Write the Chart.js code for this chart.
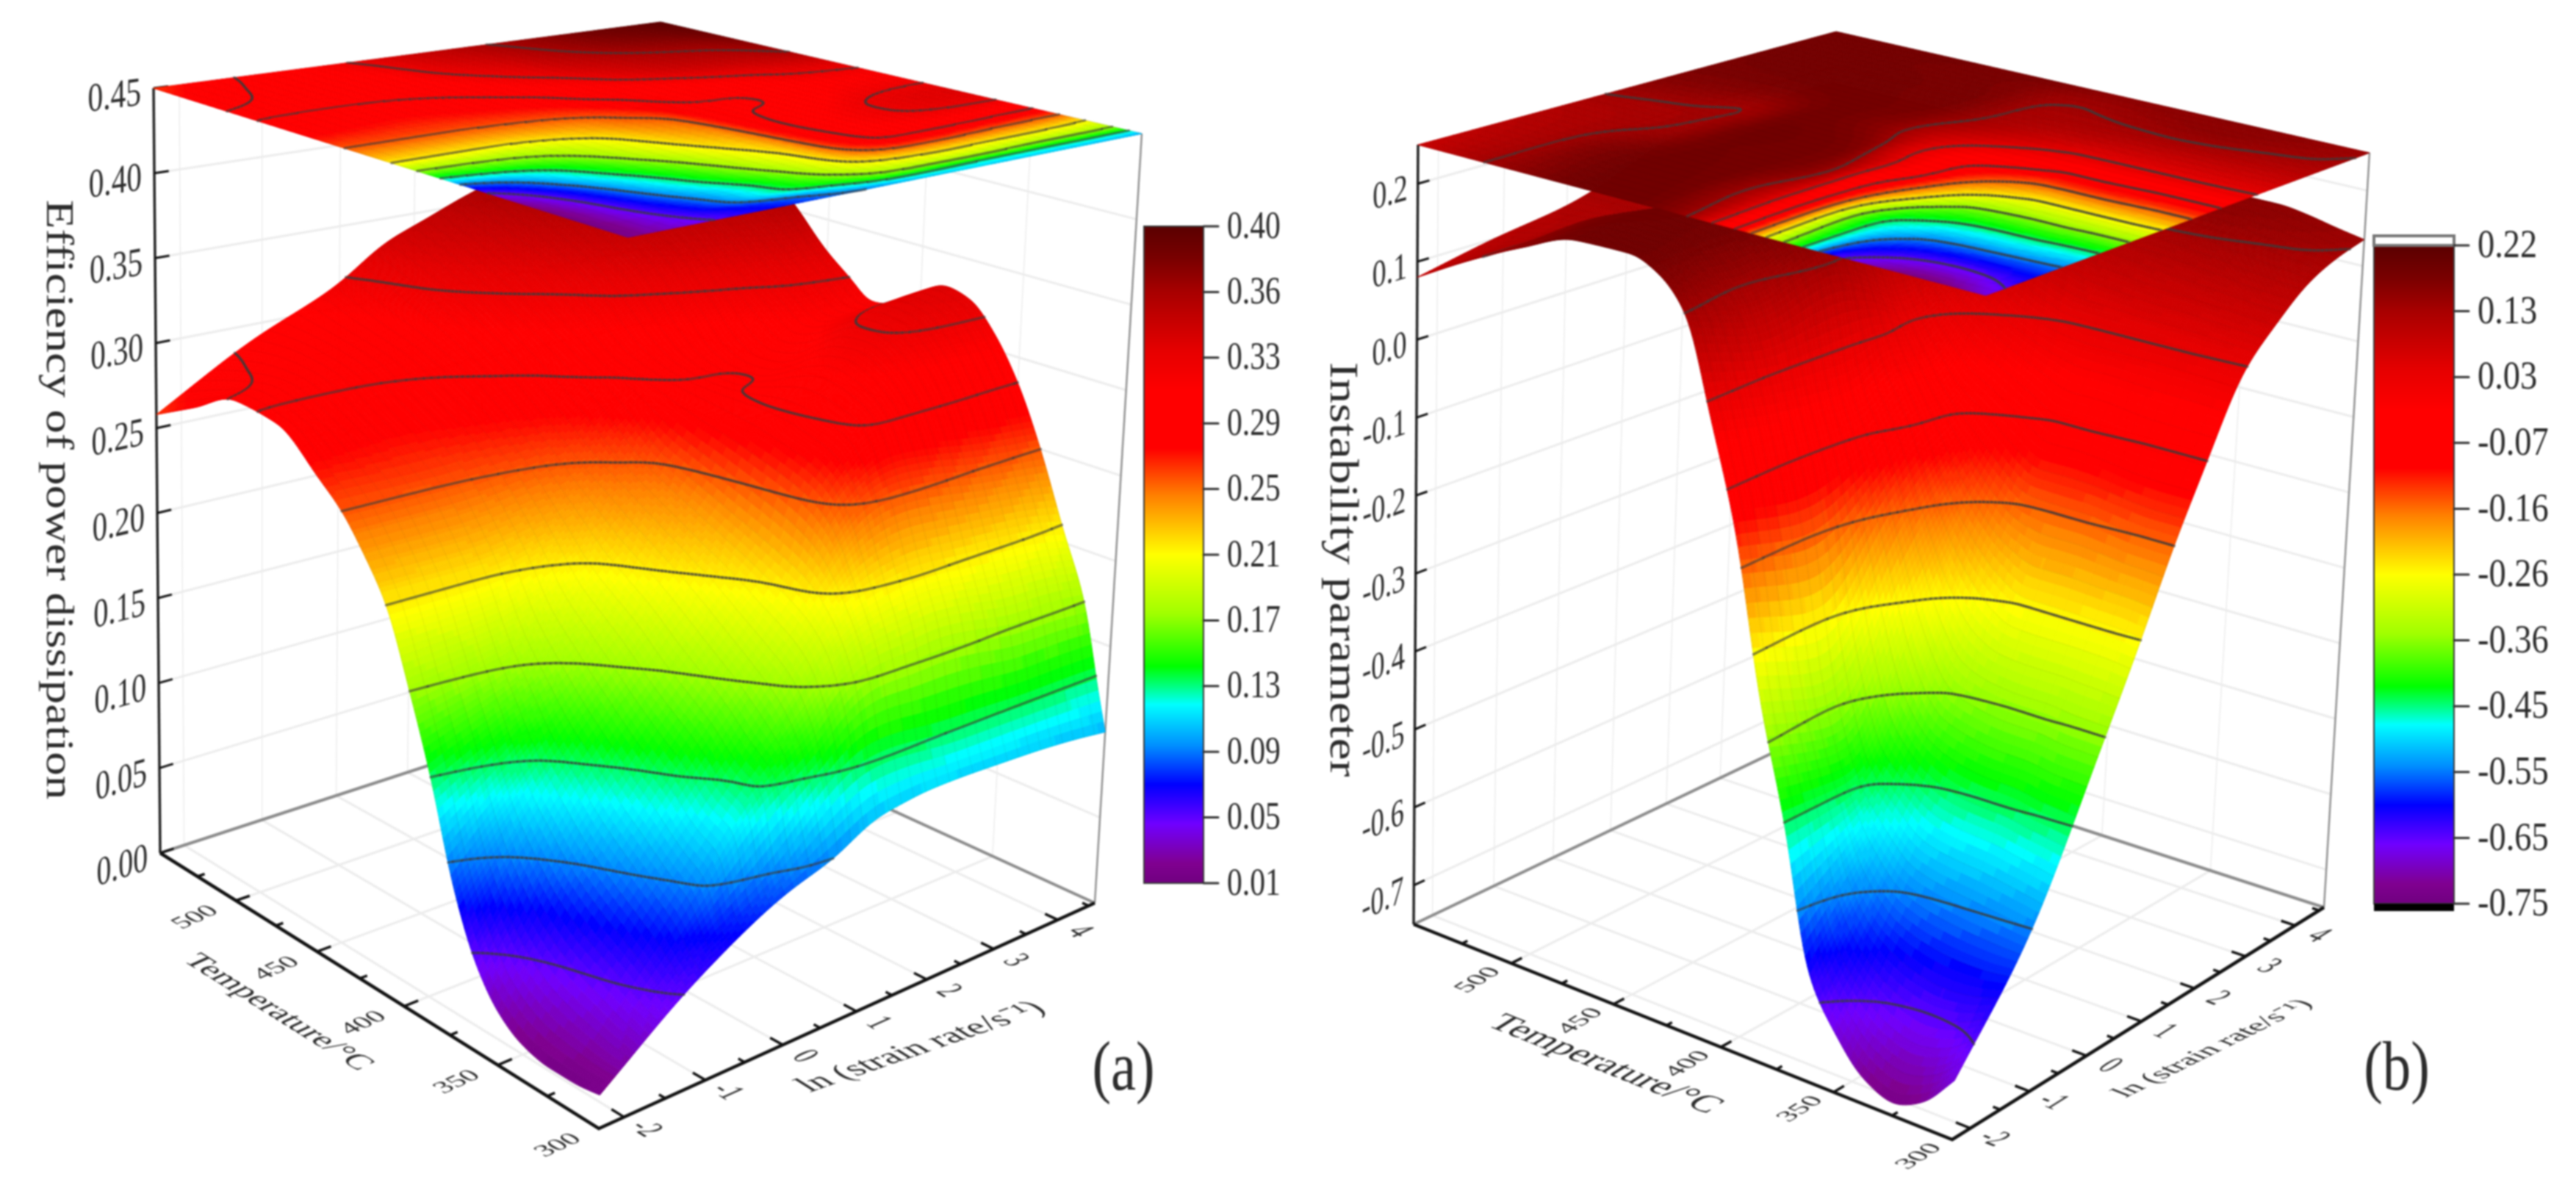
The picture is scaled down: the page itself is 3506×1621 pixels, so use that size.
<!DOCTYPE html>
<html>
<head>
<meta charset="utf-8">
<title>Efficiency of power dissipation and instability parameter</title>
<script src="https://cdn.jsdelivr.net/npm/chart.js@4/dist/chart.umd.min.js"></script>
<style>
  html, body { margin: 0; padding: 0; background: #fff; }
  #wrap { position: relative; width: 3506px; height: 1621px; overflow: hidden; }
  canvas { position: absolute; top: 0; filter: blur(1.2px); }
</style>
</head>
<body>
<div id="wrap">
  <canvas id="chartA" width="1753" height="1621" style="left:0"></canvas>
  <canvas id="chartB" width="1753" height="1621" style="left:1753px"></canvas>
</div>
<script>
// ---- axis values ----
const tempsA = [300, 305, 312.5, 325, 337.5, 350, 362.5, 375, 387.5, 400, 412.5, 425, 437.5, 450, 475, 500, 525, 550];
const ratesA = [-2.3, -1.15, 0, 0.6, 1.15, 1.5, 1.85, 2.3, 2.9, 3.45, 4.05, 4.6];
const tempsB = [300, 312.5, 325, 337.5, 350, 362.5, 375, 387.5, 400, 412.5, 425, 437.5, 450, 475, 500, 525, 550];
const ratesB = [-2.3, -1.15, 0, 0.6, 1.15, 1.7, 2.3, 2.9, 3.45, 4.05, 4.6];

// one row per strain rate, one value per temperature
const efficiency = [
  [.017, .016, .015, .015, .018, .027, .046, .08, .13, .172, .21, .232, .25, .262, .283, .286, .272, .258],
  [.055, .06, .07, .082, .093, .105, .12, .135, .157, .18, .21, .232, .25, .26, .275, .29, .293, .29],
  [.082, .09, .13, .14, .155, .166, .177, .19, .2, .21, .225, .24, .254, .265, .283, .295, .303, .315],
  [.09, .118, .145, .172, .184, .195, .206, .215, .224, .233, .242, .25, .261, .272, .293, .31, .325, .335],
  [.103, .13, .17, .2, .214, .22, .226, .232, .238, .244, .251, .265, .278, .288, .305, .322, .335, .345],
  [.105, .13, .175, .21, .24, .255, .262, .267, .272, .276, .28, .283, .287, .29, .31, .328, .34, .352],
  [.107, .128, .175, .215, .255, .272, .278, .282, .284, .284, .284, .285, .288, .295, .32, .338, .35, .358],
  [.107, .125, .178, .218, .262, .29, .297, .3, .295, .288, .284, .285, .289, .3, .33, .345, .358, .365],
  [.106, .125, .175, .216, .26, .29, .305, .312, .31, .3, .29, .288, .295, .312, .34, .355, .368, .375],
  [.105, .125, .17, .215, .255, .29, .31, .32, .322, .315, .305, .3, .31, .32, .345, .36, .375, .385],
  [.103, .125, .17, .213, .252, .287, .31, .325, .328, .32, .31, .305, .315, .328, .35, .365, .38, .392],
  [.1, .125, .168, .208, .25, .285, .31, .326, .33, .322, .31, .307, .318, .33, .36, .375, .39, .4]
];
const instability = [
  [-.68, -.72, -.735, -.72, -.68, -.62, -.45, -.31, -.12, .01, .13, .17, .185, .183, .155, .12, .08],
  [-.56, -.555, -.55, -.545, -.535, -.5, -.45, -.34, -.14, -.01, .1, .15, .18, .185, .165, .12, .1],
  [-.37, -.37, -.365, -.365, -.36, -.35, -.29, -.19, -.095, -.02, .13, .17, .178, .182, .133, .12, .115],
  [-.265, -.26, -.26, -.26, -.26, -.235, -.195, -.135, -.055, .01, .1, .17, .178, .185, .13, .125, .13],
  [-.16, -.16, -.155, -.15, -.15, -.15, -.125, -.09, -.055, 0, .06, .15, .172, .182, .128, .14, .15],
  [-.07, -.07, -.07, -.065, -.06, -.06, -.04, -.02, 0, .03, .07, .12, .155, .178, .15, .16, .165],
  [.025, .028, .03, .03, .03, .03, .03, .04, .06, .085, .11, .135, .165, .178, .175, .172, .172],
  [.07, .072, .075, .078, .08, .085, .09, .1, .105, .115, .125, .15, .17, .175, .178, .178, .175],
  [.105, .108, .112, .118, .122, .125, .125, .125, .125, .125, .128, .15, .17, .175, .178, .178, .178],
  [.125, .135, .14, .145, .15, .15, .145, .14, .135, .132, .135, .15, .165, .172, .175, .178, .18],
  [.135, .142, .15, .155, .155, .155, .155, .155, .155, .155, .16, .17, .172, .175, .178, .178, .178]
];

// ---- ticks and labels ----
const tempTicks = [300, 350, 400, 450, 500];
const tempMinor = [325, 375, 425, 475, 525];
const rateTicks = [-2, -1, 0, 1, 2, 3, 4];
const rateMinor = [-1.5, -0.5, 0.5, 1.5, 2.5, 3.5, 4.5];
const zTicksA = [0, .05, .1, .15, .2, .25, .3, .35, .4, .45];
const zLabelsA = ['0.00', '0.05', '0.10', '0.15', '0.20', '0.25', '0.30', '0.35', '0.40', '0.45'];
const zTicksB = [-.7, -.6, -.5, -.4, -.3, -.2, -.1, 0, .1, .2];
const zLabelsB = ['-0.7', '-0.6', '-0.5', '-0.4', '-0.3', '-0.2', '-0.1', '0.0', '0.1', '0.2'];
const barLabelsA = ['0.40', '0.36', '0.33', '0.29', '0.25', '0.21', '0.17', '0.13', '0.09', '0.05', '0.01'];
const barLabelsB = ['0.22', '0.13', '0.03', '-0.07', '-0.16', '-0.26', '-0.36', '-0.45', '-0.55', '-0.65', '-0.75'];
const levelsA = [.05, .09, .13, .17, .21, .25, .285, .318, .36];
const levelsB = [-.65, -.55, -.45, -.36, -.26, -.16, -.07, .03, .13];

// colour bar stops, 0 = top of bar
const colorStops = [
  [0, '#5a0000'], [.05, '#7a0000'], [.1, '#a80000'], [.19, '#e60000'], [.25, '#ff0000'], [.338, '#ff0000'],
  [.41, '#ff8000'], [.5, '#ffff00'], [.59, '#a0ff00'], [.67, '#00ff00'], [.7, '#00ff80'], [.728, '#00ffff'],
  [.79, '#0090ff'], [.85, '#0000ff'], [.91, '#7000ff'], [.97, '#800090'], [1, '#700080']
];

const panelA = {
  x0: 0, x1: 1753, temps: tempsA, rates: ratesA, values: efficiency, levels: levelsA,
  zMin: 0, zMax: .45, cMin: .01, cMax: .40,
  base: { F: [815, 1536], R: [1490, 1229], L: [218, 1161], B: [874, 947] },
  top: { F: [855, 323], R: [1554, 182], L: [209, 120], B: [899, 30] },
  zTicks: zTicksA, zLabels: zLabelsA, zGap: -17, zLabelSize: 55, zK: .76,
  barX: [1557, 1638], barY: [308, 1202], barLabels: barLabelsA, barLabelX: 1670, barSize: 52, barSx: .8,
  title: 'Efficiency of power dissipation', titlePos: [78, 680], titleSize: 65,
  tempLabel: [378, 1378, 44.5], tempOff: [-55, 23], rateLabel: [1254, 1425, 49], rateOff: [29, 16],
  tag: '(a)', tagPos: [1529, 1458]
};
const panelB = {
  x0: 1753, x1: 3506, temps: tempsB, rates: ratesB, values: instability, levels: levelsB,
  zMin: -.75, zMax: .25, cMin: -.75, cMax: .22,
  base: { F: [2657, 1551], R: [3163, 1235], L: [1924, 1258], B: [2454, 1005] },
  top: { F: [2703, 402], R: [3225, 208], L: [1930, 197], B: [2499, 43] },
  zTicks: zTicksB, zLabels: zLabelsB, zGap: -14, zLabelSize: 52, zK: .76,
  barX: [3231, 3340], barY: [334, 1230], barLabels: barLabelsB, barLabelX: 3372, barSize: 54, barSx: .86,
  title: 'Instability parameter', titlePos: [1825, 775], titleSize: 68,
  tempLabel: [2184, 1449, 51], tempOff: [-45, 23], rateLabel: [3012, 1427, 41], rateOff: [31, 14],
  tag: '(b)', tagPos: [3262, 1458]
};

// ---- projection ----
function makeHomography(c) {
  const [F, R, L, B] = [c.F, c.R, c.L, c.B];
  const sx = F[0] - R[0] + B[0] - L[0], sy = F[1] - R[1] + B[1] - L[1];
  const dx1 = R[0] - B[0], dy1 = R[1] - B[1], dx2 = L[0] - B[0], dy2 = L[1] - B[1];
  const det = dx1 * dy2 - dx2 * dy1;
  const g = (sx * dy2 - dx2 * sy) / det, h = (dx1 * sy - sx * dy1) / det;
  return function(u, v) {
    const w = 1 + g * u + h * v;
    return [
      (F[0] + (R[0] - F[0] + g * R[0]) * u + (L[0] - F[0] + h * L[0]) * v) / w,
      (F[1] + (R[1] - F[1] + g * R[1]) * u + (L[1] - F[1] + h * L[1]) * v) / w
    ];
  };
}

function makeProjector(p) {
  const hb = makeHomography(p.base), ht = makeHomography(p.top);
  const t0 = 300, t1 = 550, r0 = -2.3, r1 = 4.6;
  return function(T, r, z) {
    const u = (r - r0) / (r1 - r0), v = (T - t0) / (t1 - t0), k = (z - p.zMin) / (p.zMax - p.zMin);
    const a = hb(u, v), b = ht(u, v);
    return { x: a[0] + (b[0] - a[0]) * k, y: a[1] + (b[1] - a[1]) * k };
  };
}

// ---- shading helpers (surface renderer only, the values stay the tables above) ----
function slopes(xs, ys) {
  const n = xs.length, d = [], m = new Array(n);
  for (let i = 0; i < n - 1; i++) d.push((ys[i + 1] - ys[i]) / (xs[i + 1] - xs[i]));
  m[0] = d[0]; m[n - 1] = d[n - 2];
  for (let i = 1; i < n - 1; i++) {
    if (d[i - 1] * d[i] <= 0) { m[i] = 0; continue; }
    const w1 = 2 * (xs[i + 1] - xs[i]) + (xs[i] - xs[i - 1]), w2 = (xs[i + 1] - xs[i]) + 2 * (xs[i] - xs[i - 1]);
    m[i] = (w1 + w2) / (w1 / d[i - 1] + w2 / d[i]);
  }
  return m;
}

function resample(xs, ys, qs) {
  const m = slopes(xs, ys);
  let k = 0;
  return qs.map(q => {
    while (k < xs.length - 2 && q > xs[k + 1]) k++;
    const h = xs[k + 1] - xs[k], t = (q - xs[k]) / h, t2 = t * t, t3 = t2 * t;
    return (2 * t3 - 3 * t2 + 1) * ys[k] + (t3 - 2 * t2 + t) * h * m[k] + (-2 * t3 + 3 * t2) * ys[k + 1] + (t3 - t2) * h * m[k + 1];
  });
}

// softens the knots of the mesh a little, radius in mesh cells; edges keep their value
function smoothLine(a, r) {
  const n = a.length;
  return a.map((_, i) => {
    let s = 0;
    for (let k = -r; k <= r; k++) {
      const q = i + k;
      if (q < 0) s += 2 * a[0] - a[-q];
      else if (q >= n) s += 2 * a[n - 1] - a[2 * (n - 1) - q];
      else s += a[q];
    }
    return s / (2 * r + 1);
  });
}

function soften(Z, ru, rv) {
  let out = Z;
  for (let pass = 0; pass < 2; pass++) {
    out = out.map(row => smoothLine(row, ru));
    const cols = out[0].map((_, i) => smoothLine(out.map(row => row[i]), rv));
    out = out.map((row, j) => row.map((_, i) => cols[i][j]));
  }
  return out;
}

function hexToRgb(h) { return [1, 3, 5].map(i => parseInt(h.substr(i, 2), 16)); }

function colorAt(f) {
  f = Math.max(0, Math.min(1, f));
  let i = 0;
  while (i < colorStops.length - 2 && f > colorStops[i + 1][0]) i++;
  const a = colorStops[i], b = colorStops[i + 1], t = (f - a[0]) / (b[0] - a[0]);
  const ca = hexToRgb(a[1]), cb = hexToRgb(b[1]);
  return 'rgb(' + ca.map((c, n) => Math.round(c + (cb[n] - c) * t)).join(',') + ')';
}
const colorLut = [];
for (let i = 0; i <= 140; i++) colorLut.push(colorAt(i / 140));

function drawText(ctx, text, x, y, deg, size, sx, align) {
  ctx.save();
  ctx.translate(x, y);
  ctx.scale(sx, 1);
  ctx.rotate(deg * Math.PI / 180);
  ctx.font = size + 'px "Liberation Serif"';
  ctx.fillStyle = '#2b2b2b';
  ctx.textAlign = align || 'center';
  ctx.textBaseline = 'middle';
  ctx.fillText(text, 0, 0);
  ctx.restore();
}

// text lying in a plane of the box: dir = reading direction, up = top of the glyphs
function planeText(ctx, text, x, y, dir, up, size, k1, k2, align) {
  ctx.save();
  ctx.transform(dir[0] * k1, dir[1] * k1, -up[0] * k2, -up[1] * k2, x, y);
  ctx.font = size + 'px "Liberation Serif"';
  ctx.fillStyle = '#2b2b2b';
  ctx.textAlign = align || 'center';
  ctx.textBaseline = 'middle';
  ctx.fillText(text, 0, 0);
  ctx.restore();
}

function unit(a, b) {
  const dx = b[0] - a[0], dy = b[1] - a[1], n = Math.hypot(dx, dy);
  return [dx / n, dy / n];
}

function turned(d, deg) {
  const c = Math.cos(deg * Math.PI / 180), s = Math.sin(deg * Math.PI / 180);
  return [d[0] * c - d[1] * s, d[0] * s + d[1] * c];
}

// ---- plugin: fills the surface, its projection and contours, colour bar, text ----
function makeSurfacePlugin(p, project) {
  return {
    id: 'surface3d',
    afterDatasetsDraw(chart) {
      const ctx = chart.ctx, sx = chart.scales.x, sy = chart.scales.y;
      const nu = 120, nv = 230;
      const qT = [], qR = [];
      for (let j = 0; j <= nv; j++) qT.push(300 + 250 * j / nv);
      for (let i = 0; i <= nu; i++) qR.push(-2.3 + 6.9 * i / nu);
      const cols = p.values.map(col => resample(p.temps, col, qT));
      const Z = soften(qT.map((t, j) => resample(p.rates, cols.map(c => c[j]), qR)), 3, 2);
      const px = P => [sx.getPixelForValue(P.x), sy.getPixelForValue(P.y)];
      const surf = Z.map((row, j) => row.map((z, i) => px(project(qT[j], qR[i], z))));
      const plane = Z.map((row, j) => row.map((z, i) => px(project(qT[j], qR[i], p.zMax))));

      function cellSegments(j, i, pts) {
        const out = [];
        const c = [[j, i], [j, i + 1], [j + 1, i + 1], [j + 1, i]];
        p.levels.forEach(L => {
          const hits = [];
          for (let e = 0; e < 4; e++) {
            const a = c[e], b = c[(e + 1) % 4], za = Z[a[0]][a[1]], zb = Z[b[0]][b[1]];
            if ((za < L) !== (zb < L)) {
              const t = (L - za) / (zb - za), A = pts[a[0]][a[1]], B = pts[b[0]][b[1]];
              hits.push([A[0] + (B[0] - A[0]) * t, A[1] + (B[1] - A[1]) * t]);
            }
          }
          if (hits.length >= 2) out.push([hits[0], hits[1]]);
          if (hits.length === 4) out.push([hits[2], hits[3]]);
        });
        return out;
      }
      function strokeRow(j, pts) {
        if (j < 0 || j >= nv) return;
        ctx.beginPath();
        for (let i = 0; i < nu; i++) {
          cellSegments(j, i, pts).forEach(s => { ctx.moveTo(s[0][0], s[0][1]); ctx.lineTo(s[1][0], s[1][1]); });
        }
        ctx.stroke();
      }
      function drawSheet(pts) {
        for (let j = nv - 1; j >= 0; j--) {
          for (let i = nu - 1; i >= 0; i--) {
            const z = (Z[j][i] + Z[j][i + 1] + Z[j + 1][i] + Z[j + 1][i + 1]) / 4;
            const f = (p.cMax - z) / (p.cMax - p.cMin);
            const col = colorLut[Math.max(0, Math.min(140, Math.round(f * 140)))];
            ctx.fillStyle = col; ctx.strokeStyle = col; ctx.lineWidth = 1;
            ctx.beginPath();
            ctx.moveTo(pts[j][i][0], pts[j][i][1]);
            ctx.lineTo(pts[j][i + 1][0], pts[j][i + 1][1]);
            ctx.lineTo(pts[j + 1][i + 1][0], pts[j + 1][i + 1][1]);
            ctx.lineTo(pts[j + 1][i][0], pts[j + 1][i][1]);
            ctx.closePath();
            ctx.fill(); ctx.stroke();
          }
          // faint mesh of the fitted surface
          ctx.strokeStyle = 'rgba(0,0,0,.07)'; ctx.lineWidth = 1;
          ctx.beginPath();
          for (let i = 0; i <= nu; i += 3) {
            ctx.moveTo(pts[j][i][0], pts[j][i][1]);
            ctx.lineTo(pts[j + 1][i][0], pts[j + 1][i][1]);
          }
          if (j % 6 === 0) {
            for (let i = 0; i < nu; i++) {
              ctx.moveTo(pts[j][i][0], pts[j][i][1]);
              ctx.lineTo(pts[j][i + 1][0], pts[j][i + 1][1]);
            }
          }
          ctx.stroke();
          ctx.strokeStyle = 'rgba(60,60,60,.62)'; ctx.lineWidth = 3.5; ctx.lineCap = 'round';
          strokeRow(j + 1, pts);
        }
        ctx.strokeStyle = 'rgba(60,60,60,.62)'; ctx.lineWidth = 3.5;
        strokeRow(0, pts);
      }

      ctx.save();
      drawSheet(surf);
      drawSheet(plane);

      // colour bar
      const X = v => sx.getPixelForValue(v), Y = v => sy.getPixelForValue(v);
      const grad = ctx.createLinearGradient(0, Y(p.barY[0]), 0, Y(p.barY[1]));
      colorStops.forEach(s => grad.addColorStop(s[0], s[1]));
      ctx.fillStyle = grad;
      ctx.fillRect(X(p.barX[0]), Y(p.barY[0]), X(p.barX[1]) - X(p.barX[0]), Y(p.barY[1]) - Y(p.barY[0]));
      ctx.strokeStyle = '#3a3a3a'; ctx.lineWidth = 2;
      ctx.strokeRect(X(p.barX[0]), Y(p.barY[0]), X(p.barX[1]) - X(p.barX[0]), Y(p.barY[1]) - Y(p.barY[0]));
      if (p === panelB) {
        ctx.fillStyle = '#000';
        ctx.fillRect(X(p.barX[0]), Y(p.barY[1]), X(p.barX[1]) - X(p.barX[0]), 10);
        ctx.strokeStyle = '#777'; ctx.lineWidth = 4;
        ctx.strokeRect(X(p.barX[0]), Y(p.barY[0]) - 13, X(p.barX[1]) - X(p.barX[0]), 13);
      }
      const nb = p.barLabels.length;
      p.barLabels.forEach((t, i) => {
        const y = Y(p.barY[0] + (p.barY[1] - p.barY[0]) * i / (nb - 1));
        ctx.strokeStyle = '#333'; ctx.lineWidth = 3;
        ctx.beginPath(); ctx.moveTo(X(p.barX[1]), y); ctx.lineTo(X(p.barX[1] + 20), y); ctx.stroke();
        drawText(ctx, t, X(p.barLabelX), y + 2, 0, p.barSize, p.barSx, 'left');
      });

      // axis numbers lie in the planes of the box
      const dirFR = unit(p.base.F, p.base.R), dirFL = unit(p.base.F, p.base.L), dirLF = [-dirFL[0], -dirFL[1]];
      p.zTicks.forEach(function(z, i) {
        const P = project(550, -2.3, z), Q = project(550, 4.6, z);
        planeText(ctx, p.zLabels[i], X(P.x + p.zGap), Y(P.y + 8), unit([P.x, P.y], [Q.x, Q.y]), [0, -1], p.zLabelSize, p.zK, 1, 'right');
      });
      tempTicks.forEach(T => {
        const P = project(T, -2.3, p.zMin);
        planeText(ctx, String(T), X(P.x + p.tempOff[0]), Y(P.y + p.tempOff[1]), dirFR, dirFL, 38, 1, .85);
      });
      rateTicks.forEach(r => {
        const P = project(300, r, p.zMin);
        planeText(ctx, String(r), X(P.x + p.rateOff[0]), Y(P.y + p.rateOff[1]), dirLF, dirFR, 46, .7, 1);
      });
      drawText(ctx, p.title, X(p.titlePos[0]), Y(p.titlePos[1]), 90, p.titleSize, .8);
      planeText(ctx, 'Temperature/°C', X(p.tempLabel[0]), Y(p.tempLabel[1]), dirLF, dirFR, p.tempLabel[2], 1, .95);
      planeText(ctx, 'ln (strain rate/s⁻¹)', X(p.rateLabel[0]), Y(p.rateLabel[1]), turned(dirFR, 5.5), dirFL, p.rateLabel[2], 1, .9);
      drawText(ctx, p.tag, X(p.tagPos[0]), Y(p.tagPos[1]), 0, 96, .8);
      ctx.restore();
    }
  };
}

// ---- chart building ----
function lineSet(pts, color, width) {
  return { data: pts, showLine: true, borderColor: color, borderWidth: width, pointRadius: 0, tension: 0, fill: false, clip: false };
}

function buildPanel(canvasId, p, label) {
  const project = makeProjector(p);
  const sets = [];
  const AX = '#111', EDGE = '#8c8c8c', GRID = '#ececec';
  const TA = 300, TB = 550, RA = -2.3, RB = 4.6;

  // floor and wall grid, faint
  tempTicks.forEach(T => {
    sets.push(lineSet([project(T, RA, p.zMin), project(T, RB, p.zMin)], GRID, 3));
    sets.push(lineSet([project(T, RB, p.zMin), project(T, RB, p.zMax)], GRID, 1.5));
  });
  rateTicks.forEach(r => {
    sets.push(lineSet([project(TA, r, p.zMin), project(TB, r, p.zMin)], GRID, 3));
    sets.push(lineSet([project(TB, r, p.zMin), project(TB, r, p.zMax)], GRID, 1.5));
  });
  p.zTicks.forEach(z => {
    sets.push(lineSet([project(TB, RA, z), project(TB, RB, z), project(TA, RB, z)], GRID, 3));
  });

  // box edges
  sets.push(lineSet([project(TB, RA, p.zMin), project(TB, RB, p.zMin), project(TA, RB, p.zMin)], EDGE, 4));
  sets.push(lineSet([project(TA, RB, p.zMin), project(TA, RB, p.zMax)], '#909090', 2.5));
  sets.push(lineSet([project(TB, RA, p.zMin), project(TB, RA, p.zMax)], '#222', 3.5));
  sets.push(lineSet([project(TB, RA, p.zMin), project(TA, RA, p.zMin), project(TA, RB, p.zMin)], AX, 4.5));

  // tick marks
  p.zTicks.forEach(z => sets.push(lineSet([project(TB, RA, z), project(TB, RA + .17, z)], AX, 3)));
  tempTicks.forEach(T => sets.push(lineSet([project(T, RA, p.zMin), project(T, RA + .17, p.zMin)], AX, 3.5)));
  tempMinor.forEach(T => sets.push(lineSet([project(T, RA, p.zMin), project(T, RA + .09, p.zMin)], AX, 3.5)));
  rateTicks.forEach(r => sets.push(lineSet([project(TA, r, p.zMin), project(TA + 6, r, p.zMin)], AX, 3.5)));
  rateMinor.forEach(r => sets.push(lineSet([project(TA, r, p.zMin), project(TA + 3, r, p.zMin)], AX, 3.5)));

  // the read values themselves, the plugin shades between them
  const surfacePts = [];
  p.values.forEach((col, i) => col.forEach((z, j) => surfacePts.push(project(p.temps[j], p.rates[i], z))));
  sets.push({ label: label, data: surfacePts, showLine: false, pointRadius: 0 });

  // chart.js paints the first dataset last
  sets.reverse();

  return new Chart(document.getElementById(canvasId), {
    type: 'scatter',
    data: { datasets: sets },
    options: {
      responsive: false,
      animation: false,
      layout: { padding: 0 },
      plugins: { legend: { display: false }, tooltip: { enabled: false } },
      scales: {
        x: { type: 'linear', display: false, min: p.x0, max: p.x1 },
        y: { type: 'linear', display: false, min: 0, max: 1621, reverse: true }
      }
    },
    plugins: [makeSurfacePlugin(p, project)]
  });
}

buildPanel('chartA', panelA, 'Efficiency of power dissipation');
buildPanel('chartB', panelB, 'Instability parameter');
</script>
</body>
</html>
